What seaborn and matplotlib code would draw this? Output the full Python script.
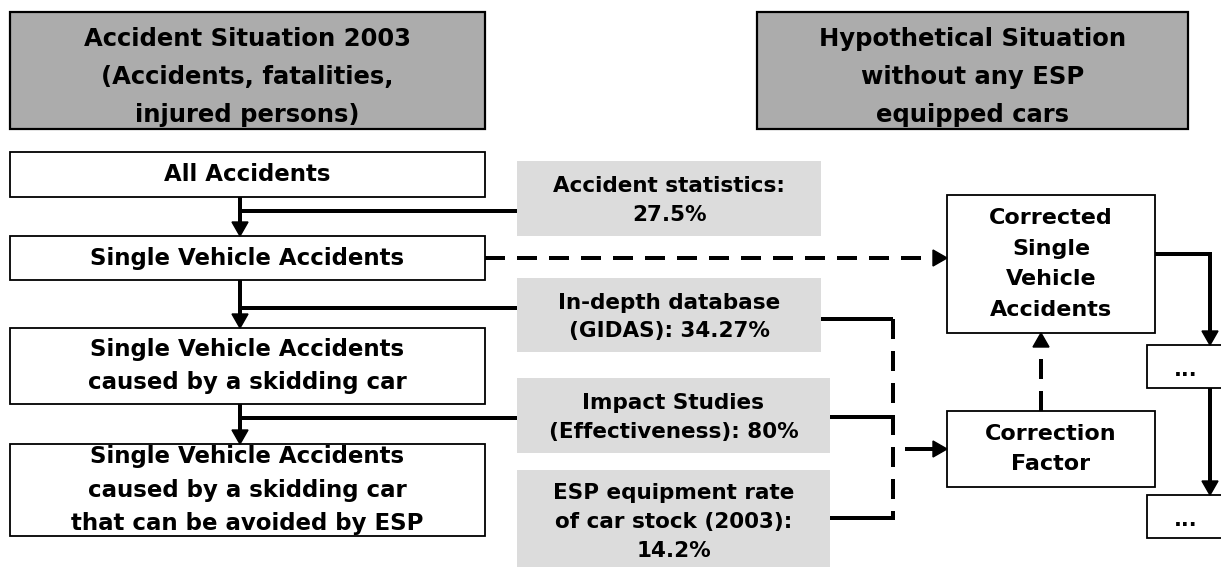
import matplotlib
matplotlib.use("Agg")
import matplotlib.pyplot as plt
import seaborn as sns
from matplotlib.patches import Rectangle, Polygon


# Chart text and values
HEADERS = [
    "Accident Situation 2003\n(Accidents, fatalities,\ninjured persons)",
    "Hypothetical Situation\nwithout any ESP\nequipped cars",
]
STEP_LABELS = [
    "All Accidents",
    "Single Vehicle Accidents",
    "Single Vehicle Accidents\ncaused by a skidding car",
    "Single Vehicle Accidents\ncaused by a skidding car\nthat can be avoided by ESP",
]
SOURCE_NAMES = [
    "Accident statistics:",
    "In-depth database\n(GIDAS):",
    "Impact Studies\n(Effectiveness):",
    "ESP equipment rate\nof car stock (2003):",
]
SOURCE_VALUES = [27.5, 34.27, 80, 14.2]
SOURCE_SEP = ["\n", " ", " ", "\n"]
RIGHT_LABELS = ["Corrected\nSingle\nVehicle\nAccidents", "Correction\nFactor"]
DOTS_LABELS = ["...", "..."]


# Layout in pixels (x0, y0, x1, y1), y grows downwards
HEADER_BOXES = [(10, 12, 485, 129), (757, 12, 1188, 129)]
STEP_BOXES = [(10, 152, 485, 197), (10, 236, 485, 280),
              (10, 328, 485, 404), (10, 444, 485, 536)]
SOURCE_BOXES = [(517, 161, 821, 236), (517, 278, 821, 352),
                (517, 378, 830, 453), (517, 470, 830, 580)]
RIGHT_BOXES = [(947, 195, 1155, 333), (947, 411, 1155, 487)]
DOTS_BOXES = [(1147, 345, 1240, 388), (1147, 495, 1240, 538)]

W, H = 1221, 567
LW = 4 * 0.72          # 4 px thick connectors
DASH = (5, 3)          # in linewidth units
FONT = ["DejaVu Sans"]


def box(ax, b, face, edge="black", lw=1.3):
    x0, y0, x1, y1 = b
    ax.add_patch(Rectangle((x0, y0), x1 - x0, y1 - y0, facecolor=face,
                           edgecolor=edge, linewidth=lw, zorder=2))


def label(ax, b, text, size, spacing=1.25, yc=None, xc=None):
    x0, y0, x1, y1 = b
    y = (y0 + y1) / 2 if yc is None else yc
    x = (x0 + x1) / 2 if xc is None else xc
    ax.text(x, y, text, ha="center", va="center", color="black",
            fontsize=size, fontweight="bold", family=FONT,
            linespacing=spacing, zorder=3)


def head(ax, x, y, direction, length=14, half=8):
    dx, dy = direction
    px, py = -dy, dx
    bx, by = x - dx * length, y - dy * length
    pts = [(x, y), (bx + px * half, by + py * half), (bx - px * half, by - py * half)]
    ax.add_patch(Polygon(pts, closed=True, color="black", zorder=4))


def line(ax, xs, ys, dashed=False):
    kw = dict(color="black", lw=LW, zorder=3, solid_capstyle="butt",
              dash_capstyle="butt", solid_joinstyle="miter")
    if dashed:
        kw["linestyle"] = (0, DASH)
    ax.plot(xs, ys, **kw)


sns.set_theme(style="white")
plt.rcParams["font.family"] = FONT
plt.rcParams["text.color"] = "black"

fig = plt.figure(figsize=(W / 100, H / 100), dpi=100)
ax = fig.add_axes([0, 0, 1, 1])
ax.set_xlim(0, W)
ax.set_ylim(H, 0)
ax.axis("off")

# header boxes
for b, t in zip(HEADER_BOXES, HEADERS):
    box(ax, b, "#acacac", lw=1.6)
    label(ax, b, t, 17.5, spacing=1.72, yc=77)

# left chain of boxes
step_spacing = [1.0, 1.0, 1.6, 1.6]
for b, t, s in zip(STEP_BOXES, STEP_LABELS, step_spacing):
    box(ax, b, "white")
    label(ax, b, t, 16.5, spacing=s)

# light gray source boxes
for i, b in enumerate(SOURCE_BOXES):
    x0, y0, x1, y1 = b
    ax.add_patch(Rectangle((x0, y0), x1 - x0, y1 - y0, facecolor="#dcdcdc",
                           edgecolor="none", zorder=2))
    text = f"{SOURCE_NAMES[i]}{SOURCE_SEP[i]}{SOURCE_VALUES[i]:g}%"
    yc = 522 if i == 3 else (y0 + y1) / 2 + 2
    label(ax, b, text, 15.5, spacing=1.55, yc=yc)

# right side boxes
for b, t, s in zip(RIGHT_BOXES, RIGHT_LABELS, [1.66, 1.6]):
    box(ax, b, "white")
    label(ax, b, t, 16, spacing=s)
for b, t in zip(DOTS_BOXES, DOTS_LABELS):
    box(ax, b, "white")
    label(ax, b, t, 15, yc=(b[1] + b[3]) / 2 + 3, xc=1186)

# solid arrows down the left chain, with side feeds from the sources
xa = 240
feeds = [211, 308, 418]
for k in range(3):
    top, bot = STEP_BOXES[k][3], STEP_BOXES[k + 1][1]
    line(ax, [xa, xa], [top, bot - 13])
    head(ax, xa, bot, (0, 1))
    line(ax, [xa - 1.5, SOURCE_BOXES[k][0]], [feeds[k], feeds[k]])

# dashed arrow to corrected box
ys = 258
line(ax, [STEP_BOXES[1][2], RIGHT_BOXES[0][0] - 13], [ys, ys], dashed=True)
head(ax, RIGHT_BOXES[0][0], ys, (1, 0))

# dashed bracket collecting the three sources
xb = 893
line(ax, [821, xb], [319, 319])
line(ax, [830, xb], [417, 417])
line(ax, [830, xb], [518, 518])
line(ax, [xb, xb], [319, 520], dashed=True)
line(ax, [xb + 12, RIGHT_BOXES[1][0] - 13], [449, 449])
head(ax, RIGHT_BOXES[1][0], 449, (1, 0))

# dashed arrow from correction factor up to corrected box
xc = 1041
line(ax, [xc, xc], [RIGHT_BOXES[1][1], RIGHT_BOXES[0][3] + 13], dashed=True)
head(ax, xc, RIGHT_BOXES[0][3], (0, -1))

# solid path on the far right
xr = 1210
line(ax, [RIGHT_BOXES[0][2], xr, xr], [254, 254, DOTS_BOXES[0][1] - 13])
head(ax, xr, DOTS_BOXES[0][1], (0, 1))
line(ax, [xr, xr], [DOTS_BOXES[0][3], DOTS_BOXES[1][1] - 13])
head(ax, xr, DOTS_BOXES[1][1], (0, 1))

fig.savefig("out.png", dpi=100)
